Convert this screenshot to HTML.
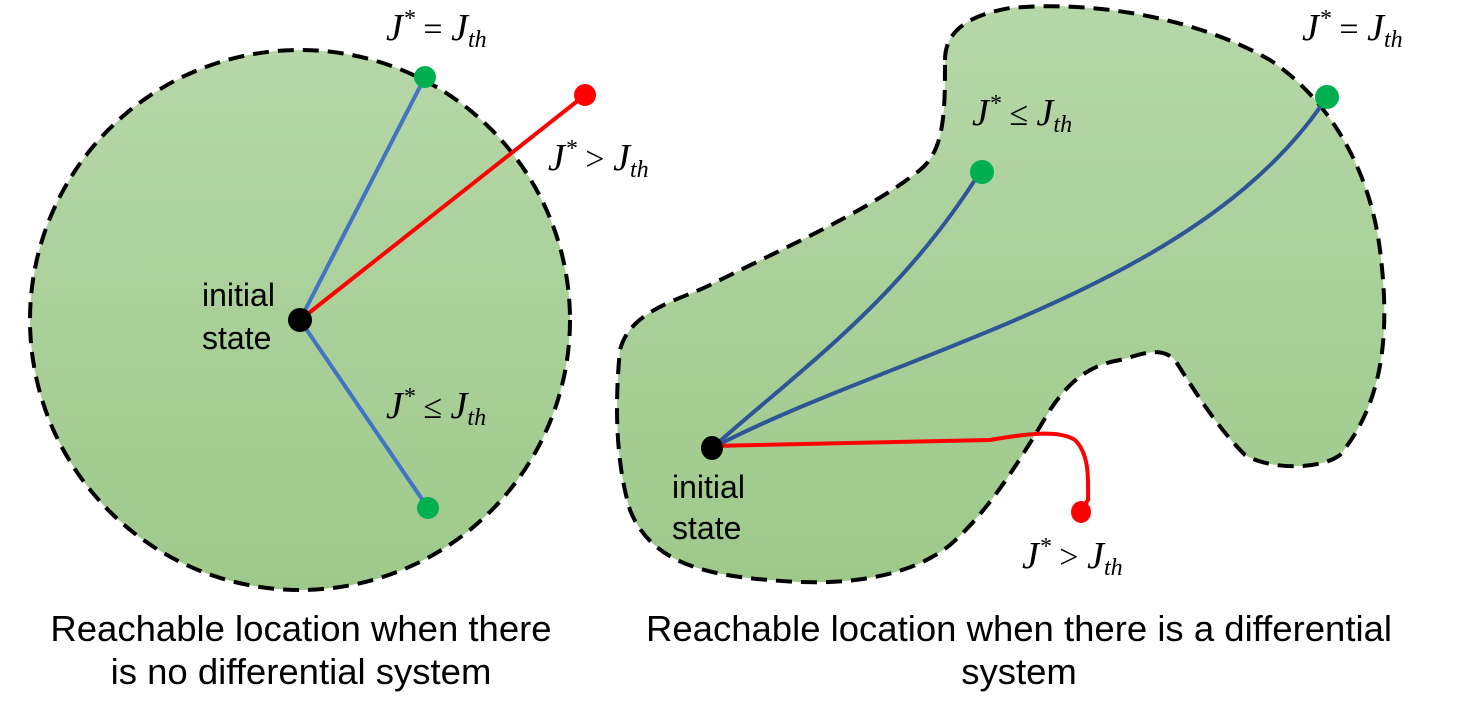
<!DOCTYPE html>
<html><head><meta charset="utf-8"><style>
body{margin:0;background:#fff;}
svg{display:block;}
.m{font-family:"Liberation Serif",serif;font-style:italic;font-size:38px;fill:#000;}
.s{font-family:"Liberation Serif",serif;font-style:italic;font-size:24px;}
.o{font-family:"Liberation Serif",serif;font-size:34px;font-style:normal;}
.l{font-family:"Liberation Sans",sans-serif;font-size:32px;fill:#000;}
.c{font-family:"Liberation Sans",sans-serif;font-size:36.5px;fill:#000;text-anchor:middle;}
</style></head><body>
<svg width="1462" height="718" viewBox="0 0 1462 718">
<defs>
<linearGradient id="g" x1="0" y1="0" x2="0" y2="1">
<stop offset="0" stop-color="#b6d7a8"/><stop offset="1" stop-color="#9ec98b"/>
</linearGradient>
</defs>
<circle cx="300" cy="320" r="270" fill="url(#g)" stroke="#000" stroke-width="4" stroke-dasharray="16,9"/>
<path d="M 945,60 C 945,30 970,15 1010,8 C 1100,0 1200,20 1270,60 C 1330,100 1370,170 1380,250 C 1390,330 1385,400 1340,455 C 1320,470 1270,470 1245,455 C 1220,430 1200,400 1175,360 C 1160,345 1140,355 1120,360 C 1090,365 1070,380 1050,410 C 1020,460 990,510 950,545 C 900,585 820,585 770,580 C 700,575 650,560 630,510 C 615,460 615,400 620,350 C 630,310 680,300 710,285 C 790,245 870,210 920,170 C 945,150 945,110 945,60 Z" fill="url(#g)" stroke="#000" stroke-width="4" stroke-dasharray="16,9"/>
<line x1="300" y1="320" x2="425" y2="77" stroke="#4472c4" stroke-width="4"/>
<line x1="300" y1="320" x2="428" y2="508" stroke="#4472c4" stroke-width="4"/>
<line x1="300" y1="320" x2="585" y2="95" stroke="#ff0000" stroke-width="4"/>
<circle cx="300" cy="320" r="12" fill="#000"/>
<circle cx="425" cy="77" r="11" fill="#00b050"/>
<circle cx="428" cy="508" r="11" fill="#00b050"/>
<circle cx="585" cy="95" r="11" fill="#ff0000"/>
<path d="M712,448 C800,370 900,300 980,172" fill="none" stroke="#2f5597" stroke-width="4"/>
<path d="M712,448 C900,350 1200,290 1327,97" fill="none" stroke="#2f5597" stroke-width="4"/>
<path d="M712,446 L990,440 C1030,433 1060,430 1075,440 C1090,455 1088,480 1088,500 L1080,512" fill="none" stroke="#ff0000" stroke-width="4"/>
<ellipse cx="712" cy="448" rx="11" ry="12" fill="#000"/>
<ellipse cx="982" cy="172" rx="12" ry="12" fill="#00b050"/>
<ellipse cx="1327" cy="97" rx="12" ry="12" fill="#00b050"/>
<ellipse cx="1081" cy="512" rx="10" ry="11" fill="#ff0000"/>
<text class="m" x="386" y="40">J<tspan class="s" dy="-14">*</tspan><tspan class="o" dy="14"> = </tspan>J<tspan class="s" dy="7">th</tspan></text>
<text class="m" x="548" y="170">J<tspan class="s" dy="-14">*</tspan><tspan class="o" dy="14"> &gt; </tspan>J<tspan class="s" dy="7">th</tspan></text>
<text class="m" x="386" y="418">J<tspan class="s" dy="-14">*</tspan><tspan class="o" dy="14"> ≤ </tspan>J<tspan class="s" dy="7">th</tspan></text>
<text class="m" x="1302" y="40">J<tspan class="s" dy="-14">*</tspan><tspan class="o" dy="14"> = </tspan>J<tspan class="s" dy="7">th</tspan></text>
<text class="m" x="972" y="125">J<tspan class="s" dy="-14">*</tspan><tspan class="o" dy="14"> ≤ </tspan>J<tspan class="s" dy="7">th</tspan></text>
<text class="m" x="1022" y="568">J<tspan class="s" dy="-14">*</tspan><tspan class="o" dy="14"> &gt; </tspan>J<tspan class="s" dy="7">th</tspan></text>
<text class="l" x="202" y="306">initial</text>
<text class="l" x="202" y="349">state</text>
<text class="l" x="672" y="498">initial</text>
<text class="l" x="672" y="539">state</text>
<text class="c" x="301" y="641">Reachable location when there</text>
<text class="c" x="301" y="684">is no differential system</text>
<text class="c" x="1019" y="641">Reachable location when there is a differential</text>
<text class="c" x="1019" y="684">system</text>
</svg>
</body></html>
